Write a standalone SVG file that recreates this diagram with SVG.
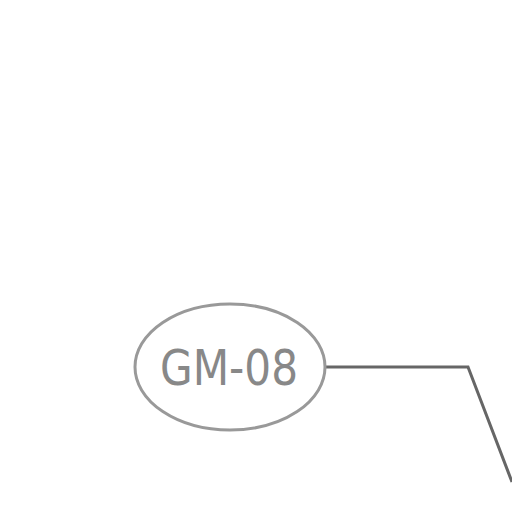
<svg xmlns="http://www.w3.org/2000/svg" width="512" height="512" viewBox="0 0 512 512">
<style>
.node{fill:#fff;stroke:#999;stroke-width:3}
.lbl{font-family:"DejaVu Sans Condensed","DejaVu Sans",sans-serif;font-size:49px;fill:#888;text-anchor:middle}
.conn{fill:none;stroke:#666;stroke-width:3}
</style>
<rect width="512" height="512" fill="#fff"/>
<g id="connectors">
<polyline class="conn" points="326,367 468,367 512,482"/>
</g>
<g id="node-gm08">
<ellipse class="node" cx="230" cy="367" rx="95" ry="63"/>
<text class="lbl" x="229" y="385" textLength="138" lengthAdjust="spacingAndGlyphs">GM-08</text>
</g>
</svg>
